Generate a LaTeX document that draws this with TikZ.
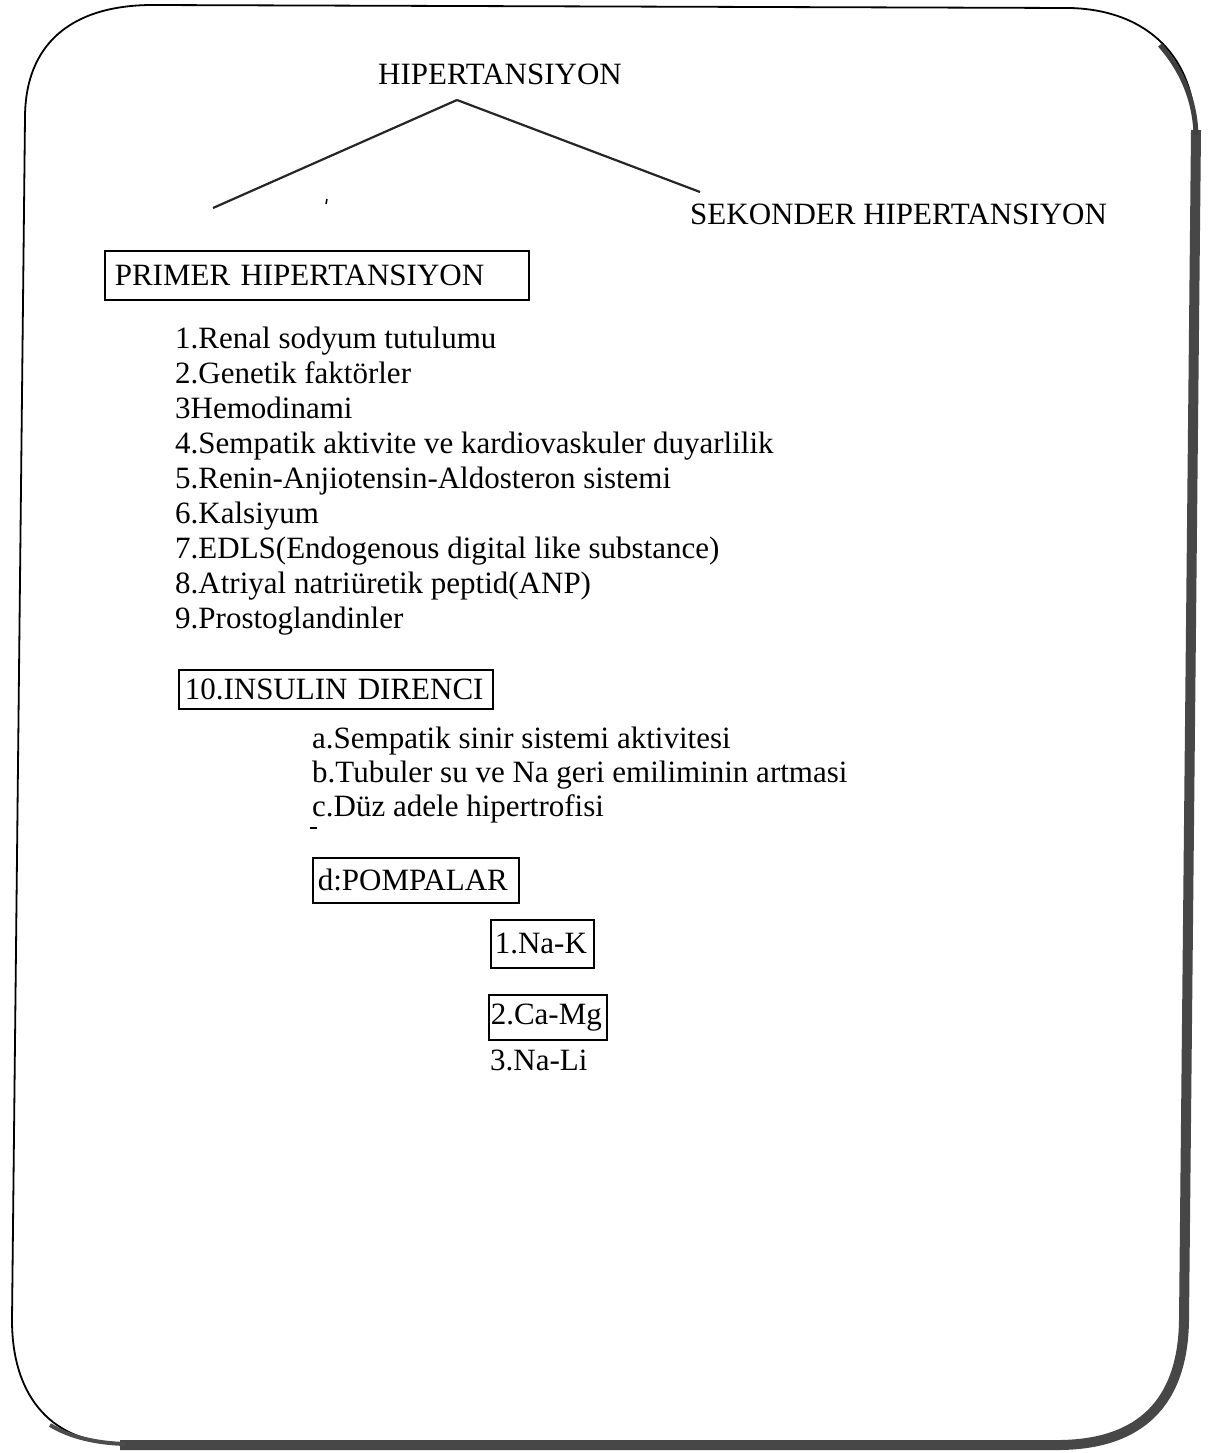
\documentclass[tikz,border=0pt]{standalone}
\usepackage{fontspec}
\setmainfont{Liberation Serif}
\begin{document}
\begin{tikzpicture}[x=1pt,y=-1pt,
  txt/.style={font=\fontsize{31}{35}\selectfont, inner sep=0pt},
  boxst/.style={draw=black, line width=1.6pt, font=\fontsize{31}{35}\selectfont, inner ysep=0pt, align=left},
  branch/.style={line width=2.2pt, black!85},
  frame/.style={line width=1.8pt, black},
  shade/.style={line width=10pt, black!72}]
\useasboundingbox (0,0) rectangle (1213,1453);
% frame
\draw[frame] (25,118) .. controls (25,45) and (70,6) .. (150,5) -- (1070,8)
  .. controls (1150,10) and (1195,60) .. (1195,130) -- (1183,1320)
  .. controls (1182,1400) and (1140,1442) .. (1060,1443) -- (120,1443)
  .. controls (55,1443) and (12,1400) .. (12,1320) -- cycle;
\draw[shade] (1196,130) -- (1184,1320) .. controls (1183,1402) and (1141,1444) .. (1060,1445) -- (120,1445);
\draw[line width=5pt, black!75] (1160,45) .. controls (1182,70) and (1195,100) .. (1196,135);
\draw[line width=4pt, black!70] (125,1444) .. controls (95,1443) and (70,1437) .. (50,1425);
% title and branches
\node[txt, anchor=base] (hyp) at (500,85) {HIPERTANSIYON};
\coordinate (apex) at (457,100);
\coordinate (lend) at (213,208);
\coordinate (rend) at (700,192);
\draw[branch] (apex) -- (lend);
\draw[branch] (apex) -- (rend);
\coordinate (tick) at (327,199);
\draw[line width=1.5pt] (tick) -- ++(-1,5);
\node[txt, anchor=base west] (sek) at (690,224) {SEKONDER HIPERTANSIYON};
% primer box
\node[boxst, anchor=north west, text width=404pt, inner xsep=10pt, minimum height=49pt] (primer) at (104,250) {\mbox{PRIMER HIPERTANSIYON}};
% list
\node[txt, anchor=base west] (l1) at (175,348) {1.Renal sodyum tutulumu};
\node[txt, anchor=base west] (l2) at (175,383) {2.Genetik faktörler};
\node[txt, anchor=base west] (l3) at (175,418) {3Hemodinami};
\node[txt, anchor=base west] (l4) at (175,453) {4.Sempatik aktivite ve kardiovaskuler duyarlilik};
\node[txt, anchor=base west] (l5) at (175,488) {5.Renin-Anjiotensin-Aldosteron sistemi};
\node[txt, anchor=base west] (l6) at (175,523) {6.Kalsiyum};
\node[txt, anchor=base west] (l7) at (175,558) {7.EDLS(Endogenous digital like substance)};
\node[txt, anchor=base west] (l8) at (175,593) {8.Atriyal natriüretik peptid(ANP)};
\node[txt, anchor=base west] (l9) at (175,628) {9.Prostoglandinler};
% insulin
\node[boxst, anchor=north west, text width=302pt, inner xsep=6pt, minimum height=39pt] (ins) at (178,669) {\mbox{10.INSULIN DIRENCI}};
\node[txt, anchor=base west] (a) at (312,748) {a.Sempatik sinir sistemi aktivitesi};
\node[txt, anchor=base west] (b) at (312,782) {b.Tubuler su ve Na geri emiliminin artmasi};
\node[txt, anchor=base west] (c) at (312,816) {c.Düz adele hipertrofisi};
\coordinate (dash) at (310,828);
\draw[line width=2.5pt] (dash) -- ++(7,0);
% pumps
\node[boxst, anchor=north west, text width=196pt, inner xsep=5pt, minimum height=45pt] (pomp) at (312,857) {\mbox{d:POMPALAR}};
\node[boxst, anchor=north west, text width=95pt, inner xsep=4pt, minimum height=48pt] (nak) at (490,919) {\mbox{1.Na-K}};
\node[boxst, anchor=north west, text width=114pt, inner xsep=2pt, minimum height=45pt] (camg) at (488,994) {\mbox{2.Ca-Mg}};
\node[txt, anchor=base west] (nali) at (490,1070) {3.Na-Li};
\end{tikzpicture}
\end{document}
